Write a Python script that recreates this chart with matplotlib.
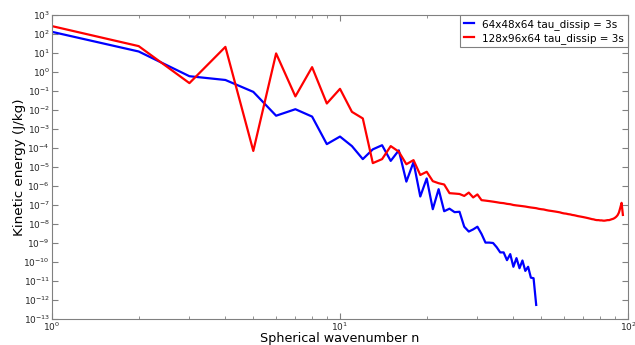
import matplotlib
matplotlib.use("Agg")
import matplotlib.pyplot as plt
from matplotlib.ticker import LogLocator, NullFormatter

n_blue = list(range(1, 49))
ke_blue = [130, 12, 0.6, 0.38, 0.09, 0.005, 0.011, 0.0045, 1.6e-4, 4e-4,
           1.26e-4, 2.6e-5, 8.5e-5, 1.4e-4, 2.1e-5, 7.5e-5, 1.7e-6, 1.8e-5, 2.8e-7, 2.5e-6,
           6e-8, 6.8e-7, 4.7e-8, 6.4e-8, 4.2e-8, 4.4e-8, 7.2e-9, 4e-9, 5.2e-9, 7.2e-9,
           3e-9, 1.05e-9, 1.05e-9, 1e-9, 6e-10, 3.2e-10, 3.2e-10, 1.25e-10, 2.6e-10, 5.6e-11,
           1.6e-10, 4.7e-11, 1.2e-10, 3.4e-11, 5.6e-11, 1.5e-11, 1.4e-11, 5.5e-13]

n_red = list(range(1, 97))
ke_red = [260, 23, 0.26, 21, 7e-5, 9.5, 0.052, 1.8, 0.022, 0.13,
          8e-3, 3.6e-3, 1.6e-5, 2.6e-5, 1.26e-4, 6.4e-5, 1.4e-5, 2.3e-5, 3.8e-6, 5.6e-6,
          1.8e-6, 1.4e-6, 1.2e-6, 4.2e-7, 4.0e-7, 3.8e-7, 3.0e-7, 4.5e-7, 2.5e-7, 3.6e-7,
          1.8e-7, 1.7e-7, 1.6e-7, 1.5e-7, 1.4e-7, 1.3e-7, 1.25e-7, 1.15e-7, 1.1e-7, 1.0e-7,
          9.5e-8, 9.1e-8, 8.7e-8, 8.3e-8, 7.8e-8, 7.4e-8, 7.1e-8, 6.8e-8, 6.3e-8, 6.0e-8,
          5.8e-8, 5.4e-8, 5.1e-8, 4.9e-8, 4.7e-8, 4.5e-8, 4.3e-8, 4.1e-8, 3.8e-8, 3.6e-8,
          3.5e-8, 3.3e-8, 3.2e-8, 3.0e-8, 2.9e-8, 2.75e-8, 2.6e-8, 2.5e-8, 2.4e-8, 2.3e-8,
          2.2e-8, 2.1e-8, 2.0e-8, 1.9e-8, 1.8e-8, 1.75e-8, 1.65e-8, 1.6e-8, 1.6e-8, 1.55e-8,
          1.55e-8, 1.5e-8, 1.5e-8, 1.55e-8, 1.6e-8, 1.6e-8, 1.7e-8, 1.8e-8, 1.9e-8, 2.1e-8,
          2.4e-8, 2.9e-8, 4.0e-8, 7.1e-8, 1.3e-7, 3.0e-8]

labels = ["64x48x64 tau_dissip = 3s", "128x96x64 tau_dissip = 3s"]
xlabel = "Spherical wavenumber n"
ylabel = "Kinetic energy (J/kg)"

fig = plt.figure(figsize=(6.35, 3.45), dpi=100)
ax = fig.add_axes([52/635, 1-319/345, (628-52)/635, (319-15)/345])

ax.plot(n_blue, ke_blue, color="#0000ff", lw=1.6, label=labels[0])
ax.plot(n_red, ke_red, color="#ff0000", lw=1.6, label=labels[1])

ax.set_xscale("log")
ax.set_yscale("log")
ax.set_xlim(1, 100)
ax.set_ylim(1e-13, 1e3)

ax.yaxis.set_major_locator(LogLocator(base=10, numticks=30))
ax.yaxis.set_minor_locator(LogLocator(base=10, subs=[], numticks=30))
ax.yaxis.set_minor_formatter(NullFormatter())

for sp in ax.spines.values():
    sp.set_color("0.5")
ax.tick_params(which="both", direction="in", top=True, right=True, color="0.5",
               labelsize=6.5, labelcolor="0.15", pad=1.5)
ax.tick_params(axis="x", which="both", pad=1)
ax.tick_params(which="major", length=4)
ax.tick_params(which="minor", length=2)

ax.set_xlabel(xlabel, fontsize=9.2)
ax.set_ylabel(ylabel, fontsize=9.7)
ax.xaxis.set_label_coords(0.5, -0.042)
ax.yaxis.set_label_coords(-0.046, 0.5)

leg = ax.legend(loc="upper right", fontsize=7.5, borderaxespad=0, fancybox=False,
                handlelength=1.0, handletextpad=0.8, borderpad=0.35, labelspacing=0.3,
                framealpha=1)
leg.get_frame().set_edgecolor("0.5")
leg.get_frame().set_linewidth(0.8)

fig.savefig("out.png", dpi=100)
